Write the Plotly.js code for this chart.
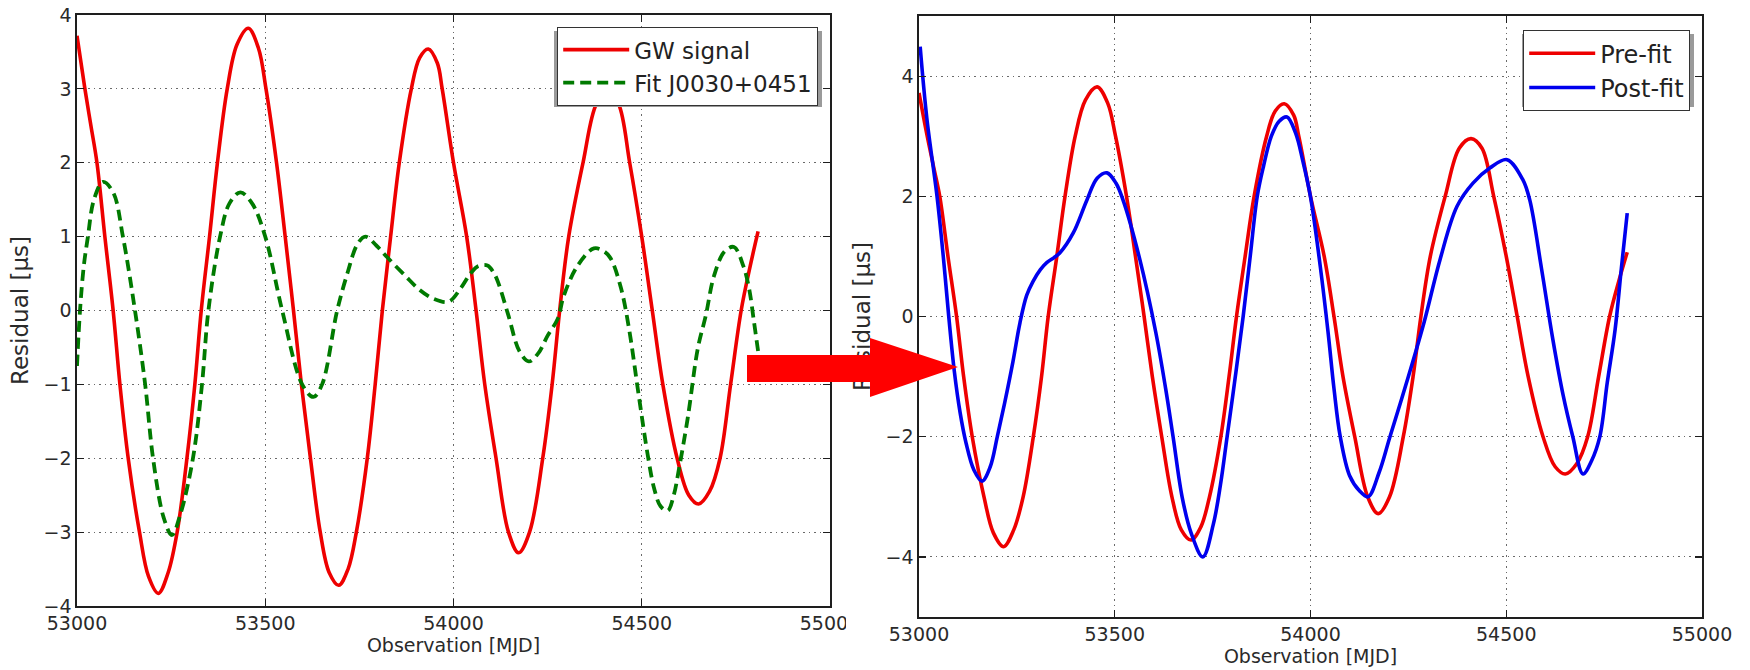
<!DOCTYPE html>
<html>
<head>
<meta charset="utf-8">
<script src="https://cdn.plot.ly/plotly-3.0.1.min.js"></script>
<style>
  html, body { margin: 0; padding: 0; background: #ffffff; }
  #wrap { position: relative; width: 1750px; height: 670px; }
  #chart, #overlay { position: absolute; left: 0; top: 0; width: 1750px; height: 670px; }
  #overlay { pointer-events: none; }
</style>
</head>
<body>
<div id="wrap">
  <div id="chart"></div>
  <div id="overlay"></div>
</div>
<script>
// Injected gravitational-wave signal (timing residuals, microseconds)
const gwMjd = [53000, 53021, 53037, 53053, 53074, 53096, 53114, 53136, 53166, 53190, 53216, 53242, 53266, 53292, 53313,
  53330, 53352, 53373, 53399, 53425, 53455, 53482, 53502, 53530, 53553, 53575, 53596, 53620, 53646, 53670, 53695,
  53720, 53742, 53771, 53792, 53811, 53833, 53856, 53888, 53910, 53933, 53957, 53970, 54000, 54035, 54060, 54083,
  54113, 54146, 54173, 54202, 54237, 54262, 54282, 54306, 54344, 54380, 54410, 54438, 54468, 54500, 54528, 54556,
  54594, 54625, 54651, 54680, 54708, 54736, 54764, 54788, 54809];
const gwRes = [3.72, 3.0, 2.5, 2.0, 1.0, 0.0, -1.0, -2.0, -3.0, -3.6, -3.83, -3.55, -3.0, -2.0, -1.0,
  0.0, 1.0, 2.0, 3.0, 3.6, 3.82, 3.55, 3.0, 2.0, 1.0, 0.0, -1.0, -2.0, -3.0, -3.55, -3.72,
  -3.5, -3.0, -2.0, -1.0, 0.0, 1.0, 2.0, 3.0, 3.42, 3.54, 3.35, 3.0, 2.0, 1.0, 0.0, -1.0,
  -2.0, -3.0, -3.28, -3.0, -2.0, -1.0, 0.0, 1.0, 2.0, 2.8, 2.96, 2.8, 2.0, 1.0, 0.0, -1.0,
  -2.0, -2.5, -2.62, -2.45, -2.0, -1.0, 0.0, 0.6, 1.07];

// Timing-model fit for PSR J0030+0451
const fitMjd = [53000, 53008, 53018, 53029, 53045, 53069, 53096, 53122, 53154, 53181, 53202, 53230, 53252, 53275, 53308,
  53332, 53349, 53380, 53405, 53434, 53465, 53500, 53545, 53598, 53628, 53651, 53691, 53718, 53745, 53766, 53795,
  53824, 53870, 53910, 53947, 53987, 54019, 54045, 54065, 54090, 54108, 54120, 54146, 54175, 54200, 54225, 54250,
  54277, 54293, 54330, 54373, 54400, 54418, 54445, 54466, 54492, 54516, 54533, 54550, 54569, 54585, 54599, 54622,
  54649, 54670, 54692, 54720, 54745, 54770, 54785, 54798, 54809, 54816];
const fitRes = [-0.75, 0.0, 0.6, 1.0, 1.5, 1.74, 1.6, 1.0, 0.0, -1.0, -2.0, -2.8, -3.04, -2.75, -2.0,
  -1.0, 0.0, 1.0, 1.45, 1.6, 1.45, 1.0, 0.0, -1.0, -1.17, -1.0, 0.0, 0.5, 0.9, 1.0, 0.88,
  0.72, 0.48, 0.28, 0.16, 0.12, 0.30, 0.50, 0.60, 0.61, 0.50, 0.36, -0.07, -0.55, -0.69, -0.58, -0.34,
  -0.11, 0.2, 0.61, 0.84, 0.80, 0.70, 0.3, -0.24, -1.15, -1.96, -2.41, -2.65, -2.71, -2.5, -2.14, -1.46,
  -0.51, -0.07, 0.47, 0.80, 0.86, 0.6, 0.30, -0.15, -0.55, -0.8];

// Residuals after the timing fit
const postMjd = [53003, 53020, 53046, 53062, 53076, 53090, 53105, 53120, 53140, 53161, 53182, 53200, 53220, 53240, 53258,
  53275, 53291, 53310, 53327, 53345, 53360, 53394, 53429, 53455, 53480, 53503, 53521, 53564, 53605, 53630, 53649,
  53672, 53695, 53725, 53752, 53770, 53787, 53808, 53828, 53846, 53864, 53880, 53900, 53920, 53940, 53962, 53980,
  54000, 54025, 54045, 54060, 54076, 54100, 54125, 54147, 54175, 54203, 54250, 54290, 54331, 54374, 54415, 54458,
  54502, 54542, 54560, 54590, 54619, 54645, 54670, 54696, 54718, 54739, 54758, 54778, 54794, 54809];
const postRes = [4.49, 3.3, 2.0, 1.0, 0.0, -0.9, -1.6, -2.1, -2.55, -2.74, -2.5, -2.0, -1.4, -0.75, -0.1,
  0.35, 0.58, 0.78, 0.90, 0.98, 1.06, 1.39, 1.94, 2.3, 2.39, 2.22, 1.94, 0.95, -0.27, -1.2, -2.0,
  -3.0, -3.6, -4.0, -3.45, -2.8, -2.0, -1.0, 0.0, 1.0, 2.0, 2.5, 3.0, 3.25, 3.32, 3.05, 2.6,
  1.99, 0.83, -0.27, -1.2, -2.0, -2.65, -2.9, -3.0, -2.6, -2.0, -1.0, -0.1, 0.95, 1.83, 2.22, 2.47,
  2.61, 2.28, 1.94, 0.8, -0.38, -1.3, -2.0, -2.62, -2.4, -2.0, -1.1, -0.22, 0.8, 1.72];

const xTickVals = [53000, 53500, 54000, 54500, 55000];
const xTickText = ['53000', '53500', '54000', '54500', '55000'];

// Figure geometry in pixels
const W = 1750, H = 670;
const px = v => v / W;
const py = v => 1 - v / H;

const FONT = 'DejaVu Sans, Verdana, sans-serif';
const INK = '#1e1e1e';

function xAxis(domain, anchor) {
  return {
    domain: domain, anchor: anchor, range: [53000, 55000],
    tickmode: 'array', tickvals: xTickVals, ticktext: xTickText,
    showline: true, linecolor: INK, linewidth: 1.6, mirror: 'allticks',
    ticks: 'inside', ticklen: 7, tickwidth: 1.2, tickcolor: INK,
    showgrid: true, gridcolor: '#6a6a6a', gridwidth: 1, griddash: '1.5px,4px',
    zeroline: false, fixedrange: true,
    tickfont: { family: FONT, size: 19, color: '#2a2a2a' },
    title: { text: 'Observation [MJD]', font: { family: FONT, size: 19, color: '#2a2a2a' }, standoff: 4 }
  };
}
function yAxis(domain, anchor, range, dtick) {
  return {
    domain: domain, anchor: anchor, range: range, dtick: dtick, tick0: 0,
    showline: true, linecolor: INK, linewidth: 1.6, mirror: 'allticks',
    ticks: 'inside', ticklen: 7, tickwidth: 1.2, tickcolor: INK,
    showgrid: true, gridcolor: '#6a6a6a', gridwidth: 1, griddash: '1.5px,4px',
    zeroline: false, fixedrange: true,
    tickfont: { family: FONT, size: 19, color: '#2a2a2a' },
    title: { text: 'Residual [μs]', font: { family: FONT, size: 23, color: '#2a2a2a' }, standoff: 8 }
  };
}

const traces = [
  { x: gwMjd, y: gwRes, xaxis: 'x', yaxis: 'y', name: 'GW signal', mode: 'lines',
    line: { color: '#ee0000', width: 3.6, shape: 'spline' }, legend: 'legend' },
  { x: fitMjd, y: fitRes, xaxis: 'x', yaxis: 'y', name: 'Fit J0030+0451', mode: 'lines',
    line: { color: '#007a00', width: 3.8, dash: '11px,6px', shape: 'spline' }, legend: 'legend' },
  { x: gwMjd, y: gwRes, xaxis: 'x2', yaxis: 'y2', name: 'Pre-fit', mode: 'lines',
    line: { color: '#ee0000', width: 3.6, shape: 'spline' }, legend: 'legend2' },
  { x: postMjd, y: postRes, xaxis: 'x2', yaxis: 'y2', name: 'Post-fit', mode: 'lines',
    line: { color: '#0000ee', width: 3.6, shape: 'spline' }, legend: 'legend2' }
];

const legendBase = {
  bgcolor: '#ffffff', bordercolor: '#333333', borderwidth: 1.2,
  xanchor: 'right', yanchor: 'top', itemwidth: 66, tracegroupgap: 0
};

const layout = {
  width: W, height: H,
  margin: { l: 0, r: 0, t: 0, b: 0 },
  paper_bgcolor: '#ffffff', plot_bgcolor: '#ffffff',
  showlegend: true,
  xaxis: xAxis([px(77), px(830)], 'y'),
  yaxis: yAxis([py(606), py(15)], 'x', [-4, 4], 1),
  xaxis2: xAxis([px(919), px(1702)], 'y2'),
  yaxis2: yAxis([py(617), py(16)], 'x2', [-5, 5], 2),
  legend: Object.assign({}, legendBase, { x: px(818), y: py(27),
    font: { family: FONT, size: 23, color: '#222222' } }),
  legend2: Object.assign({}, legendBase, { x: px(1690), y: py(30),
    font: { family: FONT, size: 24, color: '#222222' } }),
  shapes: [
    // drop shadows under the two legend boxes
    { type: 'rect', xref: 'paper', yref: 'paper', layer: 'above',
      x0: px(554), x1: px(822), y0: py(107), y1: py(31), fillcolor: '#9a9a9a', line: { width: 0 } },
    { type: 'rect', xref: 'paper', yref: 'paper', layer: 'above',
      x0: px(1522), x1: px(1694), y0: py(107), y1: py(34), fillcolor: '#9a9a9a', line: { width: 0 } }
  ]
};

Plotly.newPlot('chart', traces, layout, { displayModeBar: false, staticPlot: true });

// Arrow pointing from the left panel to the right one, drawn on a transparent layer on top
const arrowPts = [[747, 355], [870, 355], [870, 338], [958, 367], [870, 397], [870, 382], [747, 382]];
const arrowPath = 'M ' + arrowPts.map(p => px(p[0]).toFixed(5) + ',' + py(p[1]).toFixed(5)).join(' L ') + ' Z';

const overlayLayout = {
  width: W, height: H,
  margin: { l: 0, r: 0, t: 0, b: 0 },
  paper_bgcolor: 'rgba(0,0,0,0)', plot_bgcolor: 'rgba(0,0,0,0)',
  xaxis: { visible: false, range: [0, 1] },
  yaxis: { visible: false, range: [0, 1] },
  showlegend: false,
  shapes: [
    // the left panel ends here, cutting off the last tick label
    { type: 'rect', xref: 'paper', yref: 'paper', x0: px(846), x1: px(881), y0: py(640), y1: py(608),
      fillcolor: '#ffffff', line: { width: 0 } },
    { type: 'path', xref: 'paper', yref: 'paper', path: arrowPath,
      fillcolor: '#ff0000', line: { width: 0 } }
  ]
};
Plotly.newPlot('overlay', [], overlayLayout, { displayModeBar: false, staticPlot: true });
</script>
</body>
</html>
